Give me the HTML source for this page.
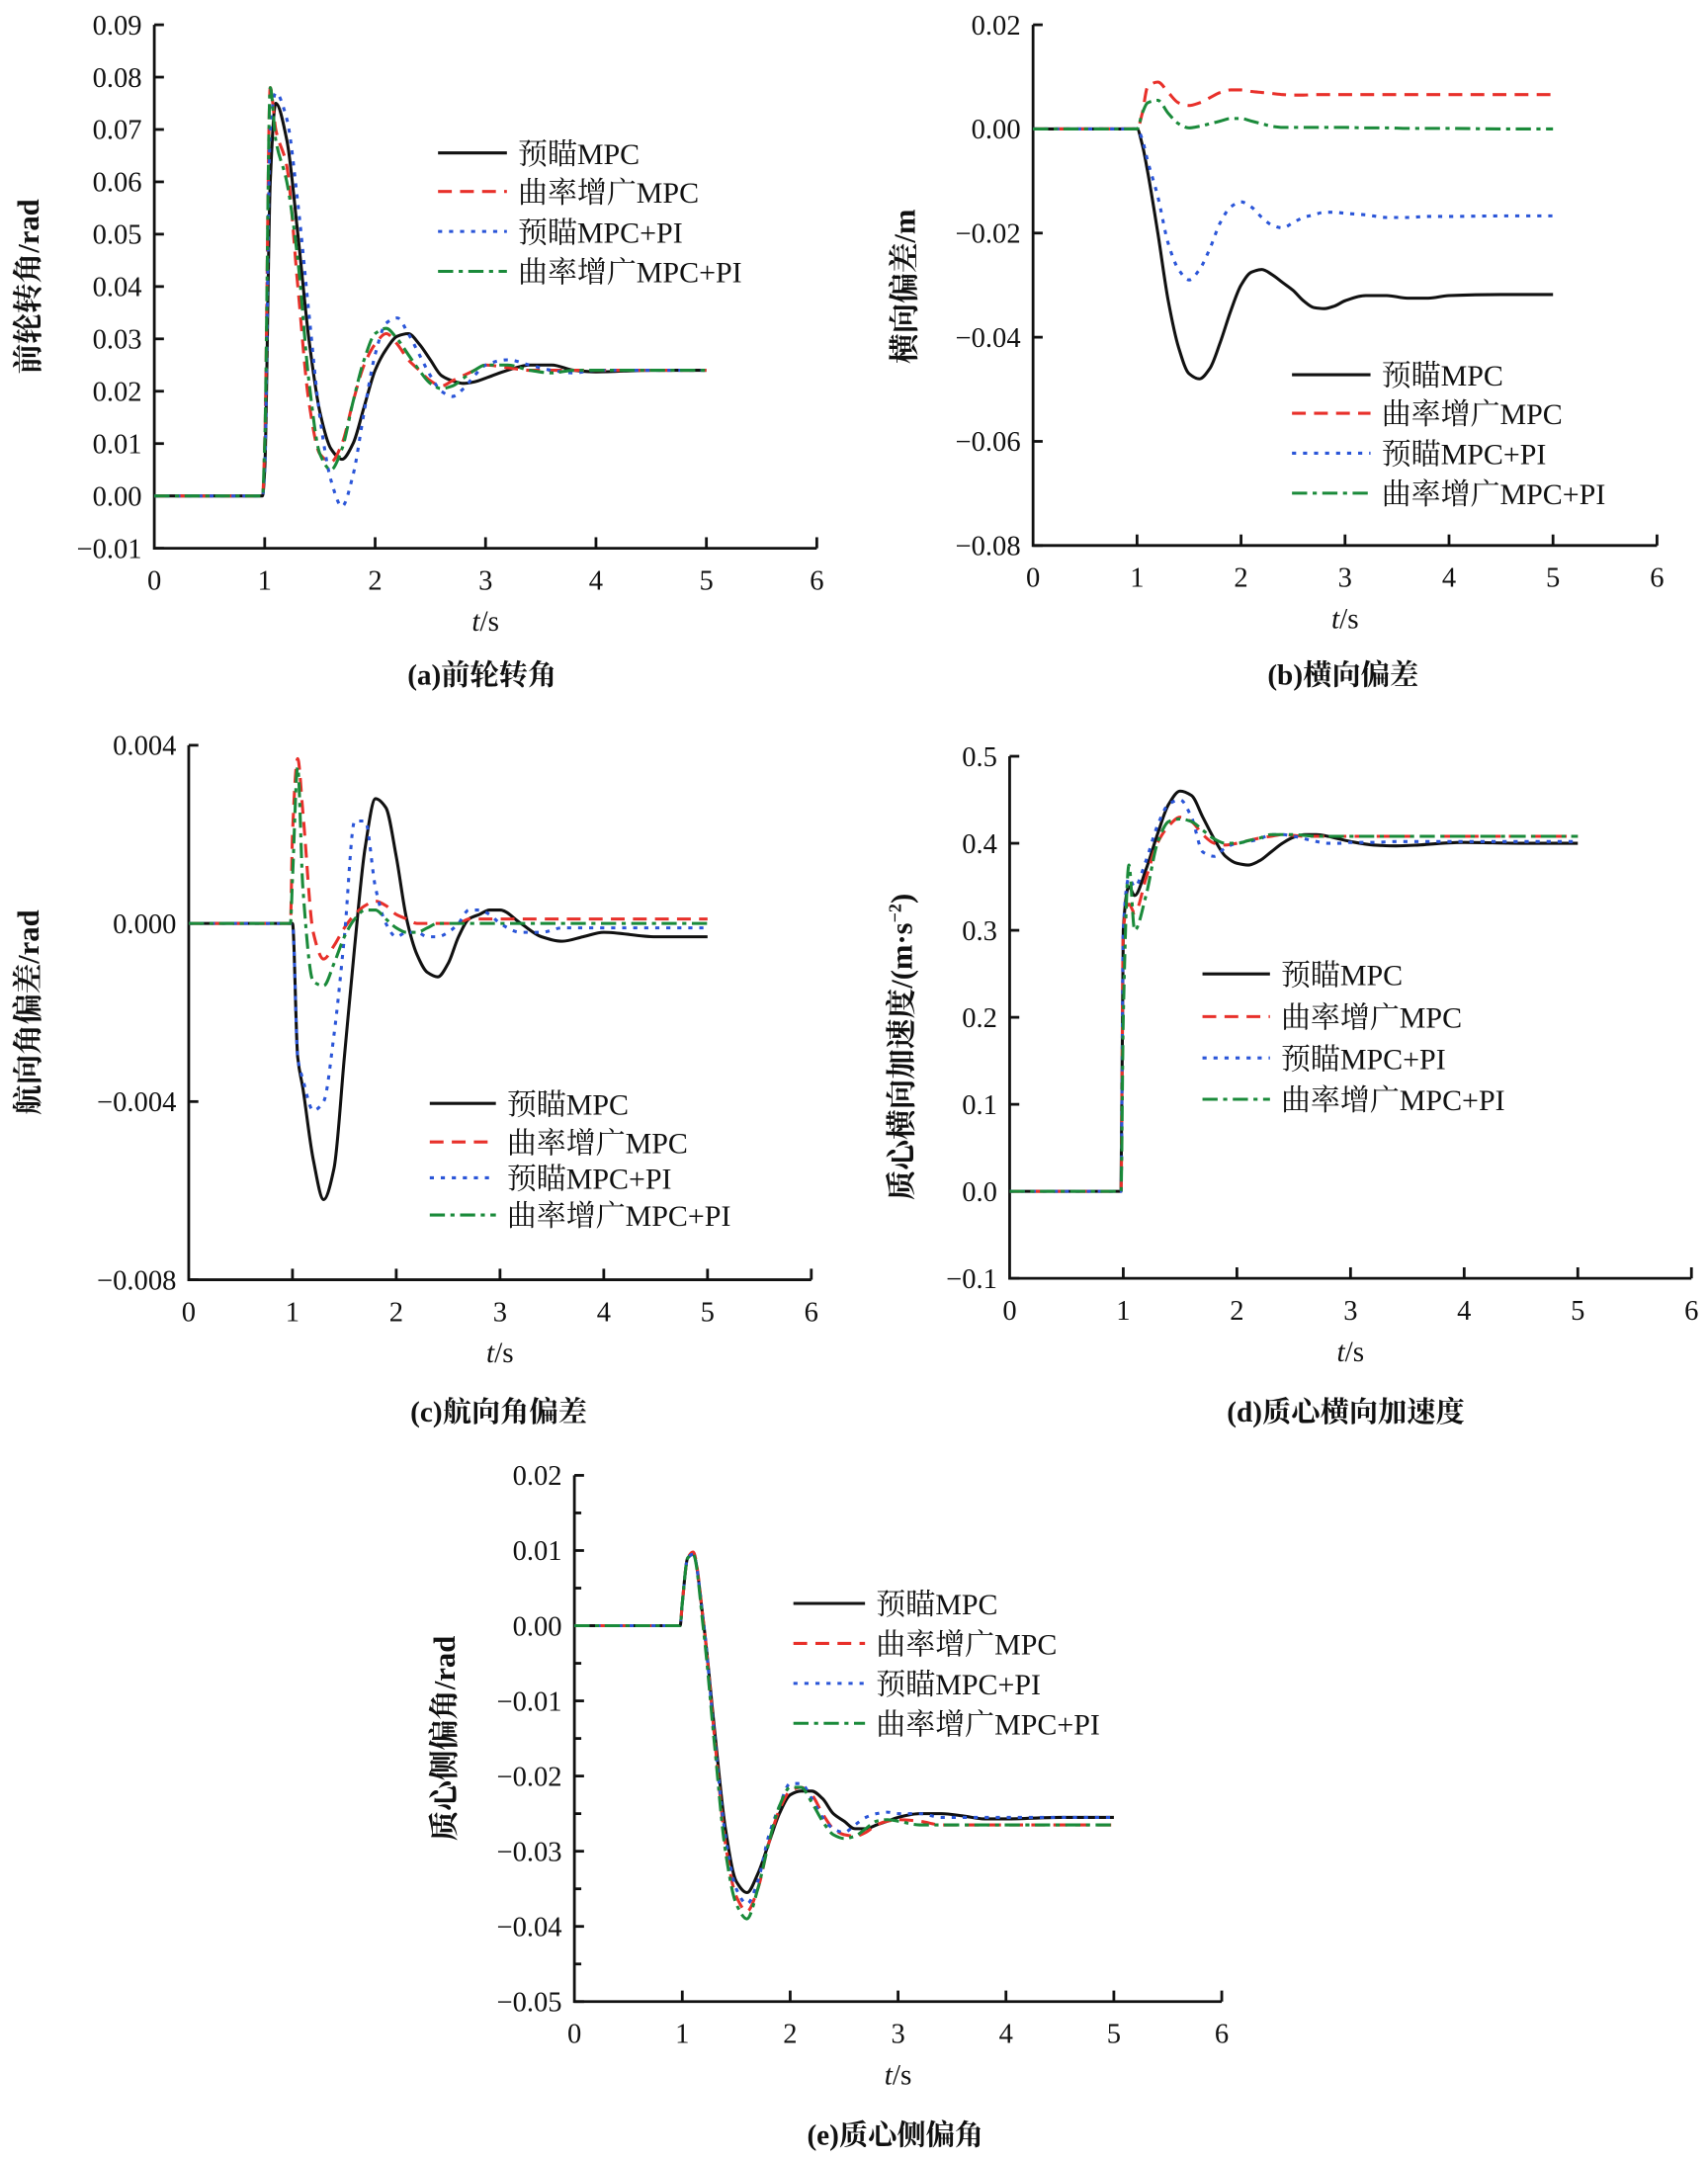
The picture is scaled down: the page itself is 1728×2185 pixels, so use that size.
<!DOCTYPE html>
<html><head><meta charset="utf-8">
<style>
html,body{margin:0;padding:0;background:#fff;}
svg{display:block;}
text{font-family:"Liberation Serif","Noto Serif CJK SC","Noto Sans CJK SC",serif;fill:#111;}
</style></head>
<body>
<svg id="fig" width="1728" height="2185" viewBox="0 0 1240 1568" xmlns="http://www.w3.org/2000/svg"></svg>
<script>
// Shared time grid (s)
const timeGrid = [0,0.98,1.0,1.05,1.1,1.2,1.3,1.4,1.5,1.6,1.7,1.8,1.9,2.0,2.1,2.2,2.3,2.4,2.5,2.6,2.7,2.8,2.9,3.0,3.2,3.4,3.6,3.8,4.0,4.5,5.0];
const seriesNames = ["预瞄MPC","曲率增广MPC","预瞄MPC+PI","曲率增广MPC+PI"];
const xTicks = [0,1,2,3,4,5,6];

// (a) front wheel angle
const aTicks = [0.09,0.08,0.07,0.06,0.05,0.04,0.03,0.02,0.01,0.00,-0.01];
const aTickLabels = ["0.09","0.08","0.07","0.06","0.05","0.04","0.03","0.02","0.01","0.00","−0.01"];
const aBlack = [0,0,0.005,0.06,0.075,0.068,0.05,0.03,0.016,0.009,0.007,0.01,0.017,0.024,0.028,0.0305,0.031,0.029,0.026,0.023,0.022,0.0215,0.0218,0.0225,0.024,0.025,0.025,0.024,0.0237,0.024,0.024];
const aRed = [0,0,0.01,0.078,0.07,0.063,0.04,0.018,0.008,0.0065,0.01,0.018,0.025,0.029,0.031,0.029,0.026,0.024,0.022,0.021,0.022,0.023,0.024,0.025,0.0245,0.024,0.024,0.024,0.024,0.024,0.024];
const aBlue = [0,0,0.005,0.07,0.077,0.072,0.056,0.035,0.015,0.003,-0.002,0.004,0.016,0.027,0.033,0.034,0.031,0.027,0.023,0.02,0.019,0.0205,0.023,0.025,0.026,0.025,0.024,0.0235,0.024,0.024,0.024];
const aGreen = [0,0,0.01,0.078,0.068,0.06,0.045,0.022,0.008,0.005,0.009,0.018,0.026,0.031,0.032,0.03,0.027,0.024,0.0215,0.0205,0.021,0.0225,0.024,0.025,0.025,0.024,0.0235,0.024,0.024,0.024,0.024];

// (b) lateral deviation
const bTicks = [0.02,0.00,-0.02,-0.04,-0.06,-0.08];
const bTickLabels = ["0.02","0.00","−0.02","−0.04","−0.06","−0.08"];
const bBlack = [0,0,0,-0.003,-0.008,-0.02,-0.033,-0.042,-0.047,-0.048,-0.046,-0.041,-0.035,-0.03,-0.0275,-0.027,-0.028,-0.0295,-0.031,-0.033,-0.0343,-0.0345,-0.034,-0.033,-0.032,-0.032,-0.0325,-0.0325,-0.032,-0.0318,-0.0318];
const bRed = [0,0,0,0.003,0.008,0.009,0.007,0.005,0.0045,0.005,0.006,0.007,0.0075,0.0075,0.0072,0.007,0.0068,0.0066,0.0065,0.0065,0.0066,0.0066,0.0066,0.0066,0.0066,0.0066,0.0066,0.0066,0.0066,0.0066,0.0066];
const bBlue = [0,0,0,-0.002,-0.006,-0.013,-0.022,-0.027,-0.029,-0.027,-0.023,-0.018,-0.015,-0.014,-0.015,-0.017,-0.0185,-0.019,-0.018,-0.017,-0.0165,-0.016,-0.016,-0.0162,-0.0165,-0.017,-0.017,-0.0168,-0.0168,-0.0167,-0.0167];
const bGreen = [0,0,0,0.003,0.005,0.0055,0.003,0.001,0.0002,0.0005,0.001,0.0015,0.002,0.002,0.0015,0.001,0.0005,0.0003,0.0003,0.0003,0.0003,0.0003,0.0003,0.0003,0.0002,0.0002,0.0001,0.0001,0.0001,0,0];

// (c) heading deviation
const cTicks = [0.004,0.000,-0.004,-0.008];
const cTickLabels = ["0.004","0.000","−0.004","−0.008"];
const cBlack = [0,0,0,-0.003,-0.0037,-0.0053,-0.0062,-0.0055,-0.003,-0.0005,0.0017,0.0028,0.0026,0.0015,0.0001,-0.0007,-0.0011,-0.0012,-0.0009,-0.0003,0.0001,0.0002,0.0003,0.0003,0.0,-0.0003,-0.0004,-0.0003,-0.0002,-0.0003,-0.0003];
const cRed = [0,0,0.002,0.0037,0.0025,-0.0002,-0.0008,-0.0005,-0.0001,0.0002,0.0004,0.0005,0.0004,0.0002,0.0001,0,0,0,0,0,0.0001,0.0001,0.0001,0.0001,0.0001,0.0001,0.0001,0.0001,0.0001,0.0001,0.0001];
const cBlue = [0,0,0,-0.003,-0.0035,-0.0042,-0.004,-0.0025,-0.0003,0.0023,0.0023,0.0008,0.0,-0.0003,-0.0002,-0.0002,-0.0003,-0.0003,-0.0002,0.0,0.0003,0.0003,0.0002,0.0,-0.0002,-0.0002,-0.0001,-0.0001,-0.0001,-0.0001,-0.0001];
const cGreen = [0,0,0.001,0.0035,0.0008,-0.0013,-0.0014,-0.0009,-0.0003,0.0001,0.0003,0.0003,0.0001,-0.0001,-0.0002,-0.0002,-0.0001,0,0,0,0,0,0,0,0,0,0,0,0,0,0];

// (d) lateral acceleration
const dTicks = [0.5,0.4,0.3,0.2,0.1,0.0,-0.1];
const dTickLabels = ["0.5","0.4","0.3","0.2","0.1","0.0","−0.1"];
const dBlack = [0,0,0.3,0.35,0.34,0.37,0.41,0.445,0.46,0.455,0.43,0.405,0.385,0.377,0.375,0.38,0.39,0.4,0.407,0.41,0.41,0.408,0.405,0.402,0.398,0.397,0.398,0.4,0.401,0.4,0.4];
const dRed = [0,0,0.3,0.33,0.32,0.36,0.4,0.42,0.43,0.425,0.41,0.4,0.398,0.4,0.403,0.406,0.408,0.41,0.409,0.408,0.408,0.408,0.408,0.408,0.408,0.408,0.408,0.408,0.408,0.408,0.408];
const dBlue = [0,0,0.3,0.36,0.35,0.38,0.42,0.445,0.45,0.43,0.39,0.385,0.395,0.4,0.402,0.405,0.41,0.41,0.408,0.405,0.402,0.4,0.4,0.401,0.401,0.402,0.402,0.402,0.402,0.402,0.402];
const dGreen = [0,0,0.2,0.375,0.3,0.34,0.4,0.425,0.428,0.425,0.415,0.405,0.4,0.4,0.403,0.406,0.41,0.41,0.41,0.409,0.408,0.408,0.408,0.408,0.408,0.408,0.408,0.408,0.408,0.408,0.408];

// (e) sideslip angle
const eTicks = [0.02,0.01,0.00,-0.01,-0.02,-0.03,-0.04,-0.05];
const eTickLabels = ["0.02","0.01","0.00","−0.01","−0.02","−0.03","−0.04","−0.05"];
const eBlack = [0,0,0.003,0.009,0.0095,0.0,-0.014,-0.027,-0.034,-0.0355,-0.033,-0.029,-0.025,-0.0225,-0.022,-0.022,-0.023,-0.025,-0.026,-0.027,-0.027,-0.0265,-0.026,-0.0255,-0.025,-0.025,-0.0253,-0.0257,-0.0257,-0.0255,-0.0255];
const eRed = [0,0,0.003,0.009,0.0098,0.0,-0.015,-0.029,-0.036,-0.038,-0.035,-0.029,-0.0245,-0.022,-0.0215,-0.0225,-0.025,-0.027,-0.0278,-0.028,-0.0275,-0.0265,-0.026,-0.0258,-0.026,-0.0265,-0.0265,-0.0265,-0.0265,-0.0265,-0.0265];
const eBlue = [0,0,0.003,0.009,0.0095,0.0,-0.015,-0.028,-0.035,-0.037,-0.034,-0.028,-0.024,-0.021,-0.021,-0.023,-0.0255,-0.027,-0.0275,-0.0265,-0.0255,-0.025,-0.0248,-0.025,-0.025,-0.0255,-0.0255,-0.0255,-0.0255,-0.0255,-0.0255];
const eGreen = [0,0,0.003,0.009,0.0095,-0.001,-0.016,-0.03,-0.037,-0.039,-0.035,-0.029,-0.024,-0.0215,-0.0215,-0.0235,-0.026,-0.0278,-0.0283,-0.028,-0.027,-0.026,-0.0258,-0.026,-0.0265,-0.0265,-0.0265,-0.0265,-0.0265,-0.0265,-0.0265];

const NS = "http://www.w3.org/2000/svg";
const svg = document.getElementById('fig');
const styles = [
  {c:"#111111",d:""},
  {c:"#e8302a",d:"10,6"},
  {c:"#2a55d8",d:"3,5"},
  {c:"#1a8a3a",d:"11,4,3,4"}
];
function mk(tag, attrs, parent){
  const e = document.createElementNS(NS, tag);
  for (const k in attrs) e.setAttribute(k, attrs[k]);
  (parent||svg).appendChild(e);
  return e;
}
// monotone cubic (Fritsch-Carlson) in screen space
function smoothPath(pts){
  const n = pts.length;
  const dx=[], sl=[];
  for (let i=0;i<n-1;i++){ dx[i]=pts[i+1][0]-pts[i][0]; sl[i]=(pts[i+1][1]-pts[i][1])/dx[i]; }
  const m=[sl[0]];
  for (let i=1;i<n-1;i++){
    if (sl[i-1]*sl[i]<=0) m[i]=0;
    else { const w1=2*dx[i]+dx[i-1], w2=dx[i]+2*dx[i-1]; m[i]=(w1+w2)/(w1/sl[i-1]+w2/sl[i]); }
  }
  m[n-1]=sl[n-2];
  let d = "M"+pts[0][0].toFixed(2)+","+pts[0][1].toFixed(2);
  for (let i=0;i<n-1;i++){
    const h=dx[i]/3;
    d += " C"+(pts[i][0]+h).toFixed(2)+","+(pts[i][1]+m[i]*h).toFixed(2)+" "+(pts[i+1][0]-h).toFixed(2)+","+(pts[i+1][1]-m[i+1]*h).toFixed(2)+" "+pts[i+1][0].toFixed(2)+","+pts[i+1][1].toFixed(2);
  }
  return d;
}
function drawChart(cfg){
  const g = mk('g', {});
  
  
  const xs = t => cfg.x0 + (cfg.x6-cfg.x0)*t/6;
  const yMax = cfg.ticks[0], yMin = cfg.ticks[cfg.ticks.length-1];
  const ys = v => cfg.yTop + (cfg.yBot-cfg.yTop)*(yMax-v)/(yMax-yMin);
  const ax = mk('path', {d:`M${cfg.x0},${cfg.yTop} L${cfg.x0},${cfg.yBot} L${cfg.x6},${cfg.yBot}`, fill:"none", stroke:"#111", "stroke-width":2}, g);
  
  
  cfg.ticks.forEach((v,i)=>{
    const y = ys(v);
    mk('line',{x1:cfg.x0,x2:cfg.x0+7,y1:y,y2:y,stroke:"#111","stroke-width":2},g);
    const t = mk('text',{x:cfg.x0-9,y:y+7,"text-anchor":"end","font-size":20.5},g);
    
    
    t.textContent = cfg.labels[i];
    if (cfg.minor && i<cfg.ticks.length-1){
      const ym = ys((v+cfg.ticks[i+1])/2);
      mk('line',{x1:cfg.x0,x2:cfg.x0+5,y1:ym,y2:ym,stroke:"#111","stroke-width":2},g);
    }
  });
  xTicks.forEach(v=>{
    const x = xs(v);
    if (v>0) mk('line',{x1:x,x2:x,y1:cfg.yBot,y2:cfg.yBot-8,stroke:"#111","stroke-width":2},g);
    const t = mk('text',{x:x,y:cfg.yBot+30,"text-anchor":"middle","font-size":20.5},g);
    
    
    t.textContent = String(v);
  });
  const xt = mk('text',{x:(cfg.x0+cfg.x6)/2,y:cfg.yBot+60,"text-anchor":"middle","font-size":21},g);
  
  
  xt.innerHTML = '<tspan font-style="italic">t</tspan>/s';
  const yt = mk('text',{x:0,y:0,"text-anchor":"middle","font-size":22,"font-weight":"bold",transform:`translate(${cfg.ylx},${cfg.yly}) rotate(-90)`},g);
  
  
  yt.innerHTML = cfg.ylabel;
  const cap = mk('text',{x:cfg.capx,y:cfg.capy,"text-anchor":"middle","font-size":21,"font-weight":"bold"},g);
  
  
  cap.textContent = cfg.caption;
  cfg.series.forEach((vals,si)=>{
    const pts = timeGrid.map((t,i)=>[xs(t), ys(vals[i])]);
    const p = mk('path',{d:smoothPath(pts),fill:"none",stroke:styles[si].c,"stroke-width":2.2,"stroke-dasharray":styles[si].d,"stroke-linejoin":"round"},g);
    
    
  });
  cfg.legY.forEach((ly,si)=>{
    const l = mk('line',{x1:cfg.legX,x2:cfg.legX+cfg.legW,y1:ly,y2:ly,stroke:styles[si].c,"stroke-width":2.2,"stroke-dasharray":styles[si].d},g);
    
    
    const t = mk('text',{x:cfg.legX+cfg.legW+8,y:ly+8,"font-size":21.5},g);
    
    
    t.textContent = seriesNames[si];
  });
}
drawChart({name:"chart-front-wheel-angle",x0:112,x6:593,yTop:18,yBot:398,ticks:aTicks,labels:aTickLabels,series:[aBlack,aRed,aBlue,aGreen],
  ylx:28,yly:208,ylabel:"前轮转角/rad",caption:"(a)前轮转角",capx:350,capy:497,legX:318,legW:50,legY:[111,139,168,197]});
drawChart({name:"chart-lateral-deviation",x0:750,x6:1203,yTop:18,yBot:396,ticks:bTicks,labels:bTickLabels,series:[bBlack,bRed,bBlue,bGreen],
  ylx:664,yly:208,ylabel:"横向偏差/m",caption:"(b)横向偏差",capx:975,capy:497,legX:938,legW:57,legY:[272,300,329,358]});
drawChart({name:"chart-heading-deviation",x0:137,x6:589,yTop:541,yBot:929,ticks:cTicks,labels:cTickLabels,series:[cBlack,cRed,cBlue,cGreen],
  ylx:28,yly:735,ylabel:"航向角偏差/rad",caption:"(c)航向角偏差",capx:362,capy:1032,legX:312,legW:48,legY:[801,829,855,882]});
drawChart({name:"chart-lateral-acceleration",x0:733,x6:1228,yTop:549,yBot:928,ticks:dTicks,labels:dTickLabels,series:[dBlack,dRed,dBlue,dGreen],
  ylx:662,yly:760,ylabel:'质心横向加速度/(m·s<tspan font-size="13" dy="-8">−2</tspan><tspan dy="8">)</tspan>',caption:"(d)质心横向加速度",capx:977,capy:1032,legX:873,legW:49,legY:[707,738,768,798]});
drawChart({name:"chart-sideslip-angle",x0:417,x6:887,yTop:1071,yBot:1453,ticks:eTicks,labels:eTickLabels,series:[eBlack,eRed,eBlue,eGreen],minor:true,
  ylx:330,yly:1262,ylabel:"质心侧偏角/rad",caption:"(e)质心侧偏角",capx:650,capy:1557,legX:576,legW:52,legY:[1164,1193,1222,1251]});
</script>
</body></html>
